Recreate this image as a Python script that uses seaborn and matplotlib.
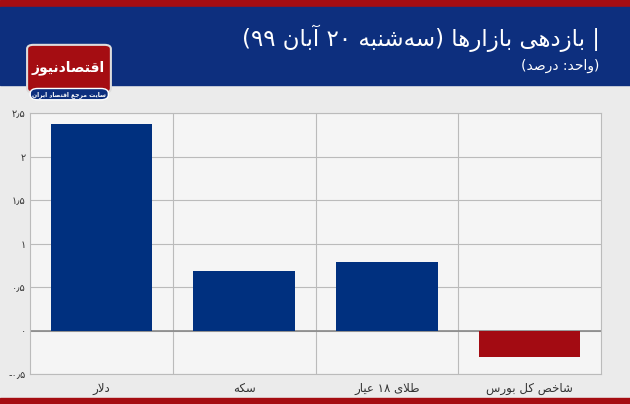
import matplotlib
matplotlib.use("Agg")
import matplotlib.pyplot as plt
import seaborn as sns
import pandas as pd
from matplotlib.patches import Rectangle, FancyBboxPatch

# ---- minimal Persian shaping (visual-order presentation forms) ----
FORMS = {
    'ا': ('\uFE8D', '\uFE8E', None, None), 'آ': ('\uFE81', '\uFE82', None, None),
    'ب': ('\uFE8F', '\uFE90', '\uFE91', '\uFE92'), 'ت': ('\uFE95', '\uFE96', '\uFE97', '\uFE98'),
    'ج': ('\uFE9D', '\uFE9E', '\uFE9F', '\uFEA0'), 'ح': ('\uFEA1', '\uFEA2', '\uFEA3', '\uFEA4'),
    'خ': ('\uFEA5', '\uFEA6', '\uFEA7', '\uFEA8'), 'د': ('\uFEA9', '\uFEAA', None, None),
    'ر': ('\uFEAD', '\uFEAE', None, None), 'ز': ('\uFEAF', '\uFEB0', None, None),
    'س': ('\uFEB1', '\uFEB2', '\uFEB3', '\uFEB4'), 'ش': ('\uFEB5', '\uFEB6', '\uFEB7', '\uFEB8'),
    'ص': ('\uFEB9', '\uFEBA', '\uFEBB', '\uFEBC'), 'ط': ('\uFEC1', '\uFEC2', '\uFEC3', '\uFEC4'),
    'ع': ('\uFEC9', '\uFECA', '\uFECB', '\uFECC'), 'ق': ('\uFED5', '\uFED6', '\uFED7', '\uFED8'),
    'ل': ('\uFEDD', '\uFEDE', '\uFEDF', '\uFEE0'), 'م': ('\uFEE1', '\uFEE2', '\uFEE3', '\uFEE4'),
    'ن': ('\uFEE5', '\uFEE6', '\uFEE7', '\uFEE8'), 'ه': ('\uFEE9', '\uFEEA', '\uFEEB', '\uFEEC'),
    'و': ('\uFEED', '\uFEEE', None, None), 'ی': ('\uFEEF', '\uFEF0', '\uFEF3', '\uFEF4'),
    'ک': ('\uFB8E', '\uFB8F', '\uFB90', '\uFB91'), 'ﻻ': ('\uFEFB', '\uFEFC', None, None),
}

def shape(word):
    word = word.replace('لا', 'ﻻ')
    out = []
    for i, c in enumerate(word):
        if c not in FORMS:
            out.append(c if c != '\u200c' else '')
            continue
        prev = word[i - 1] if i > 0 else None
        nxt = word[i + 1] if i + 1 < len(word) else None
        jp = prev in FORMS and FORMS[prev][2] is not None
        jn = FORMS[c][2] is not None and nxt in FORMS
        iso, fin, ini, med = FORMS[c]
        out.append(med if jp and jn else fin if jp else ini if jn else iso)
    return ''.join(reversed(out))

def rtl(*words):
    return ' '.join(w if w[0] in '0123456789۰۱۲۳۴۵۶۷۸۹' else shape(w) for w in reversed(words))

# ---- data ----
categories = [rtl('دلار'), rtl('سکه'), rtl('طلای', '۱۸', 'عیار'), rtl('شاخص', 'کل', 'بورس')]
values = [2.38, 0.69, 0.79, -0.30]
bar_colors = ['#00307f', '#00307f', '#00307f', '#a30b12']
yticks = [-0.5, 0, 0.5, 1, 1.5, 2, 2.5]
ytick_labels = ['-۰٫۵', '۰', '۰٫۵', '۱', '۱٫۵', '۲', '۲٫۵']

df = pd.DataFrame({'cat': categories, 'val': values})

sns.set_theme(style='white')
plt.rcParams['font.family'] = ['DejaVu Sans']

fig = plt.figure(figsize=(6.3, 4.04), dpi=100)
fig.patch.set_facecolor('#ebebeb')

# header
fig.patches.append(Rectangle((0, 0.983), 1, 0.017, transform=fig.transFigure, color='#a50d12', zorder=0))
fig.patches.append(Rectangle((0, 0.79), 1, 0.193, transform=fig.transFigure, color='#0d2f7e', zorder=0))
fig.patches.append(Rectangle((0, 0), 1, 0.015, transform=fig.transFigure, color='#a50d12', zorder=0))

title = '(۹۹ ' + shape('آبان') + ' ۲۰ ' + shape('سه\u200cشنبه') + ') ' + shape('بازارها') + ' ' + shape('بازدهی') + ' |'
fig.text(0.952, 0.905, title, ha='right', va='center', color='white', fontsize=16.5)
sub = '(' + shape('درصد') + ' :' + shape('واحد') + ')'
fig.text(0.952, 0.837, sub, ha='right', va='center', color='white', fontsize=10)

# logo
fig.patches.append(FancyBboxPatch((0.047, 0.775), 0.125, 0.11, boxstyle='round,pad=0.004,rounding_size=0.01',
                                  transform=fig.transFigure, fc='#a50d12', ec='#dddddd', lw=1.5, zorder=3))
fig.text(0.109, 0.832, shape('اقتصادنیوز'), ha='center', va='center', color='white',
         fontsize=10, fontweight='bold', zorder=4)
fig.patches.append(FancyBboxPatch((0.05, 0.755), 0.12, 0.024, boxstyle='round,pad=0.002,rounding_size=0.012',
                                  transform=fig.transFigure, fc='#0d2f7e', ec='white', lw=1, zorder=3))
fig.text(0.11, 0.767, rtl('سایت', 'مرجع', 'اقتصاد', 'ایران'), ha='center', va='center',
         color='white', fontsize=4.3, fontweight='bold', zorder=4)

ax = fig.add_axes([0.0476, 0.0743, 0.9064, 0.6457])
ax.set_facecolor('#f5f5f5')
sns.barplot(data=df, x='cat', y='val', hue='cat', palette=bar_colors, legend=False,
            width=0.71, ax=ax, saturation=1, zorder=3, linewidth=0)
ax.set_ylim(-0.5, 2.5)
ax.set_xlim(-0.5, 3.5)
ax.set_yticks(yticks)
ax.set_yticklabels(ytick_labels, fontsize=7, color='#333333')
ax.tick_params(axis='x', labelsize=8.5, colors='#333333', length=0, pad=6)
ax.tick_params(axis='y', length=0, pad=3)
for y in yticks:
    ax.axhline(y, color='#bbbbbb', lw=0.8, zorder=1)
ax.axhline(0, color='#888888', lw=1.2, zorder=2)
for x in [0.5, 1.5, 2.5]:
    ax.axvline(x, color='#bbbbbb', lw=0.8, zorder=1)
ax.set_xlabel('')
ax.set_ylabel('')
for s in ax.spines.values():
    s.set_color('#bbbbbb')
    s.set_linewidth(0.8)

fig.savefig('out.png', dpi=100)
